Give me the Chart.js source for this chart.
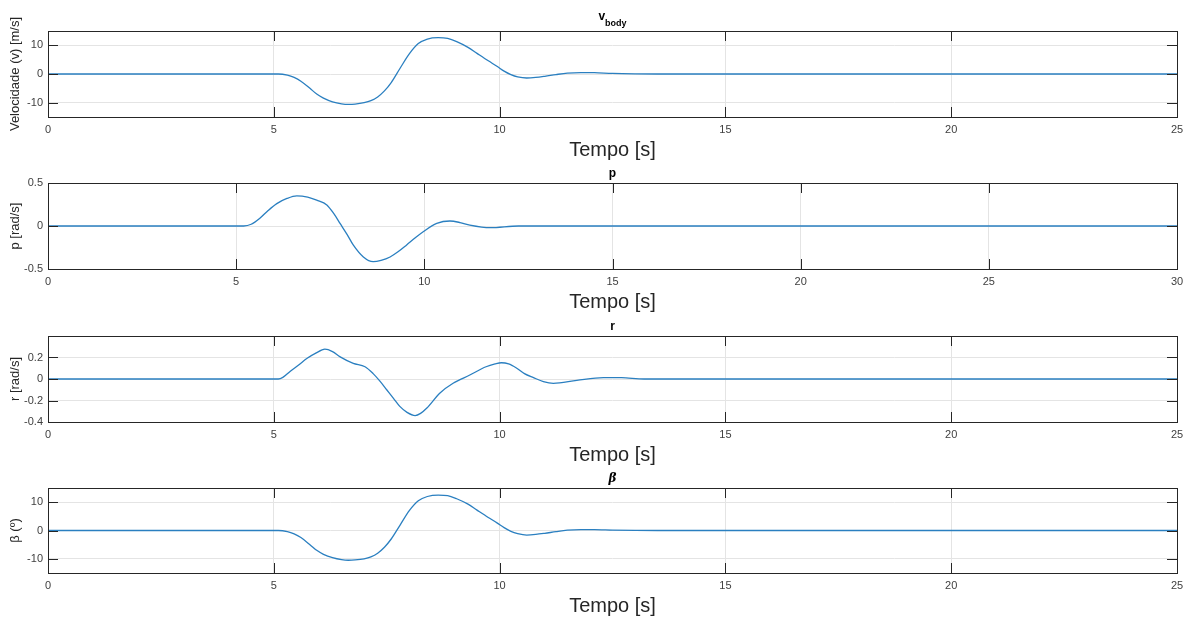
<!DOCTYPE html>
<html>
<head>
<meta charset="utf-8">
<script src="https://cdn.jsdelivr.net/npm/chart.js@4.4.0/dist/chart.umd.min.js"></script>
<style>
  body { margin: 0; background: #fff; overflow: hidden; width: 1198px; height: 621px; position: relative; }
  canvas { position: absolute; left: 0; }
</style>
</head>
<body>
<canvas id="c0" width="1198" height="165" style="top:0px"></canvas>
<canvas id="c1" width="1198" height="165" style="top:152px"></canvas>
<canvas id="c2" width="1198" height="165" style="top:305px"></canvas>
<canvas id="c3" width="1198" height="164" style="top:457px"></canvas>
<script>
// valores (tempo em s)
const tV = [0, 5.1, 5.3, 5.45, 5.6, 5.8, 5.95, 6.1, 6.3, 6.5, 6.65, 6.8, 7.0, 7.15, 7.3, 7.45, 7.6, 7.8, 8.0, 8.2, 8.4, 8.64, 8.85, 9.05, 9.3, 9.5, 9.75, 9.95, 10.1, 10.25, 10.4, 10.6, 10.8, 11.0, 11.25, 11.5, 11.8, 12.1, 12.5, 13.0, 13.5, 25];
const vBody = [0, 0, -0.4, -1.2, -2.5, -5.0, -7.0, -8.4, -9.7, -10.4, -10.6, -10.5, -10.0, -9.3, -8.0, -5.9, -3.0, 2.1, 7.0, 10.6, 12.2, 12.7, 12.4, 11.3, 9.3, 7.2, 4.6, 2.6, 1.0, -0.2, -1.0, -1.4, -1.2, -0.8, -0.2, 0.3, 0.5, 0.45, 0.2, 0.05, 0, 0];

const tP = [0, 5.2, 5.4, 5.63, 5.85, 6.08, 6.35, 6.61, 6.9, 7.14, 7.41, 7.6, 7.76, 7.95, 8.11, 8.38, 8.64, 8.85, 9.09, 9.3, 9.53, 9.75, 9.97, 10.33, 10.68, 10.95, 11.21, 11.75, 12.5, 30];
const pRate = [0, 0, 0.02, 0.09, 0.18, 0.26, 0.32, 0.35, 0.335, 0.30, 0.245, 0.14, 0.03, -0.1, -0.22, -0.36, -0.415, -0.40, -0.36, -0.30, -0.22, -0.14, -0.066, 0.03, 0.058, 0.04, 0.01, -0.02, 0, 0];

const tR = [0, 5.1, 5.2, 5.36, 5.55, 5.73, 5.93, 6.13, 6.3, 6.47, 6.76, 7.02, 7.2, 7.35, 7.5, 7.65, 7.79, 7.95, 8.13, 8.25, 8.39, 8.68, 8.97, 9.34, 9.7, 9.9, 10.04, 10.2, 10.38, 10.55, 10.75, 10.97, 11.19, 11.71, 12.3, 12.7, 13.2, 25];
const rRate = [0, 0, 0.015, 0.07, 0.13, 0.19, 0.24, 0.277, 0.255, 0.206, 0.145, 0.114, 0.05, -0.02, -0.10, -0.18, -0.255, -0.31, -0.34, -0.32, -0.27, -0.13, -0.04, 0.037, 0.114, 0.14, 0.151, 0.14, 0.10, 0.05, 0.013, -0.024, -0.04, -0.012, 0.013, 0.012, 0, 0];

const tBeta = [0, 5.1, 5.3, 5.45, 5.6, 5.8, 5.95, 6.1, 6.3, 6.5, 6.65, 6.8, 7.0, 7.15, 7.3, 7.45, 7.6, 7.8, 8.0, 8.2, 8.4, 8.64, 8.85, 9.05, 9.3, 9.5, 9.75, 9.95, 10.1, 10.25, 10.4, 10.6, 10.8, 11.0, 11.25, 11.5, 11.8, 12.1, 12.5, 13.0, 13.5, 25];
const betaVals = [0, 0, -0.4, -1.2, -2.5, -5.0, -7.0, -8.4, -9.6, -10.3, -10.5, -10.4, -10.0, -9.3, -8.0, -5.9, -3.0, 2.0, 7.0, 10.5, 12.0, 12.5, 12.3, 11.2, 9.3, 7.2, 4.6, 2.6, 1.0, -0.3, -1.1, -1.6, -1.4, -1.0, -0.4, 0.1, 0.3, 0.3, 0.15, 0.05, 0, 0];

const titles = ['v', 'p', 'r', 'β'];
const subTitles = ['body', '', '', ''];
const yLabels = ['Velocidade (v) [m/s]', 'p [rad/s]', 'r [rad/s]', 'β (º)'];
const xLabel = 'Tempo [s]';

const xTicks25 = [0, 5, 10, 15, 20, 25];
const xTicks30 = [0, 5, 10, 15, 20, 25, 30];
const yTicksV = [-10, 0, 10];
const yTicksP = [-0.5, 0, 0.5];
const yTicksR = [-0.4, -0.2, 0, 0.2];
const yTicksB = [-10, 0, 10];

Chart.defaults.font.family = '"Liberation Sans", Arial, sans-serif';
Chart.defaults.animation = false;

// caixa estilo matlab + marcas internas + titulo
const matlabBox = {
  id: 'matlabBox',
  afterDraw(chart, args, opts) {
    const {ctx, chartArea: a, scales} = chart;
    const tl = 10;
    ctx.save();
    ctx.strokeStyle = '#262626';
    ctx.lineWidth = 1;
    ctx.beginPath();
    scales.x.ticks.forEach(t => {
      const x = Math.round(scales.x.getPixelForValue(t.value)) + 0.5;
      ctx.moveTo(x, a.top); ctx.lineTo(x, a.top + tl);
      ctx.moveTo(x, a.bottom); ctx.lineTo(x, a.bottom - tl);
    });
    scales.y.ticks.forEach(t => {
      const y = Math.round(scales.y.getPixelForValue(t.value)) + 0.5;
      ctx.moveTo(a.left, y); ctx.lineTo(a.left + tl, y);
      ctx.moveTo(a.right, y); ctx.lineTo(a.right - tl, y);
    });
    ctx.stroke();
    ctx.strokeRect(Math.round(a.left) + 0.5, Math.round(a.top) + 0.5, Math.round(a.width), Math.round(a.height));

    // titulo
    const cx = (a.left + a.right) / 2;
    ctx.fillStyle = '#000';
    ctx.textBaseline = 'alphabetic';
    ctx.textAlign = 'left';
    const mainFont = opts.italic ? 'bold italic 12px "DejaVu Serif", serif' : 'bold 12px "Liberation Sans", Arial, sans-serif';
    ctx.font = mainFont;
    const w1 = ctx.measureText(opts.text).width;
    let w2 = 0;
    if (opts.sub) {
      ctx.font = 'bold 9px "Liberation Sans", Arial, sans-serif';
      w2 = ctx.measureText(opts.sub).width;
    }
    const x0 = cx - (w1 + w2) / 2;
    ctx.font = mainFont;
    ctx.fillText(opts.text, x0, a.top - (opts.sub ? 11.5 : 6.5));
    if (opts.sub) {
      ctx.font = 'bold 9px "Liberation Sans", Arial, sans-serif';
      ctx.fillText(opts.sub, x0 + w1, a.top - 5.5);
    }
    ctx.restore();
  }
};

function makeChart(id, i, t, vals, xTicks, yTicks, yMin, yMax) {
  const xMax = xTicks[xTicks.length - 1];
  return new Chart(document.getElementById(id), {
    type: 'line',
    data: {
      datasets: [{
        data: t.map((x, k) => ({x: x, y: vals[k]})),
        borderColor: '#2a7fc0',
        borderWidth: 1.3,
        pointRadius: 0,
        cubicInterpolationMode: 'monotone'
      }]
    },
    options: {
      responsive: false,
      layout: { padding: { top: 31, left: 0, right: 21, bottom: 0 } },
      plugins: {
        legend: { display: false },
        tooltip: { enabled: false },
        matlabBox: { text: titles[i], sub: subTitles[i], italic: titles[i] === 'β' }
      },
      scales: {
        x: {
          type: 'linear',
          min: 0,
          max: xMax,
          afterBuildTicks: s => { s.ticks = xTicks.map(v => ({value: v})); },
          afterFit: s => { s.height = 48; s.paddingLeft = 0; s.paddingRight = 0; },
          grid: { color: '#e4e4e4', drawTicks: false },
          border: { display: false },
          ticks: { padding: 6, color: '#404040', font: { size: 11 }, maxRotation: 0, autoSkip: false, callback: v => String(v) },
          title: { display: true, text: xLabel, color: '#262626', font: { size: 20 }, padding: { top: 0, bottom: 3 } }
        },
        y: {
          min: yMin,
          max: yMax,
          afterBuildTicks: s => { s.ticks = yTicks.map(v => ({value: v})); },
          afterFit: s => { s.width = 48; s.paddingTop = 0; s.paddingBottom = 0; },
          grid: { color: '#e4e4e4', drawTicks: false },
          border: { display: false },
          ticks: { padding: 5, color: '#404040', font: { size: 11 }, autoSkip: false, callback: v => String(v) },
          title: { display: true, text: yLabels[i], color: '#262626', font: { size: 13 }, padding: { top: 8, bottom: 0 } }
        }
      }
    },
    plugins: [matlabBox]
  });
}

makeChart('c0', 0, tV, vBody, xTicks25, yTicksV, -15, 15);
makeChart('c1', 1, tP, pRate, xTicks30, yTicksP, -0.5, 0.5);
makeChart('c2', 2, tR, rRate, xTicks25, yTicksR, -0.4, 0.4);
makeChart('c3', 3, tBeta, betaVals, xTicks25, yTicksB, -15, 15);
</script>
</body>
</html>
